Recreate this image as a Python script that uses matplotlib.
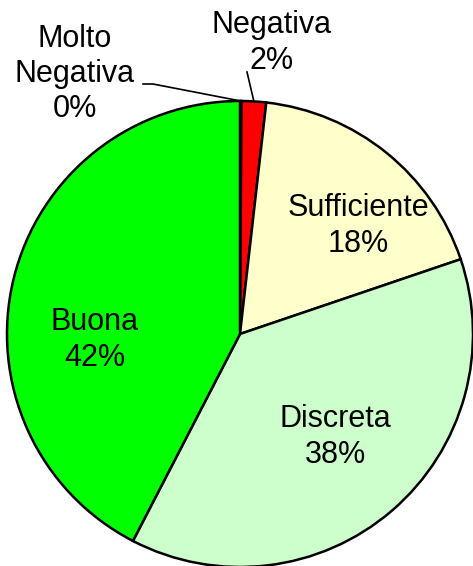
import numpy as np
import matplotlib.pyplot as plt

plt.rcParams['font.family'] = ['Liberation Sans', 'DejaVu Sans']

labels = ['Molto\nNegativa', 'Negativa', 'Sufficiente', 'Discreta', 'Buona']
values = [0.1, 1.7, 18.0, 37.8, 42.4]
colors = ['#000080', '#FF0000', '#FFFFCC', '#CCFFCC', '#00FF00']
# label text centres (pixel coords, y from top)
label_pos = [(75, 74), (272, 43), (358, 226), (335, 437), (95, 340)]

W, H = 473, 566
cx, cy, r = 240, 334, 233

fig = plt.figure(figsize=(W / 100, H / 100), dpi=100)
ax = fig.add_axes([0, 0, 1, 1])

wedges, _ = ax.pie(values, colors=colors, startangle=90, counterclock=False,
                   center=(cx, H - cy), radius=r, frame=True,
                   wedgeprops=dict(edgecolor='black', linewidth=1.8))
ax.set_xlim(0, W)
ax.set_ylim(0, H)
ax.set_aspect('equal')
ax.axis('off')

total = sum(values)
for i, (lab, v) in enumerate(zip(labels, values)):
    tx, ty = label_pos[i]
    ax.text(tx, H - ty, f'{lab}\n{round(v / total * 100):.0f}%', ha='center', va='center',
            fontsize=22, linespacing=1.22)

# leader lines for the two thin slices
w = wedges[0]
ang = np.deg2rad((w.theta1 + w.theta2) / 2)
ex, ey = cx + r * np.cos(ang), (H - cy) + r * np.sin(ang)
ax.plot([143, 153, ex], [H - 84, H - 84, ey], color='black', lw=1.2)
w = wedges[1]
ang = np.deg2rad((w.theta1 + w.theta2) / 2)
ex, ey = cx + r * np.cos(ang), (H - cy) + r * np.sin(ang)
ax.plot([247, ex], [H - 72, ey], color='black', lw=1.2)

fig.savefig('out.png', dpi=100)
